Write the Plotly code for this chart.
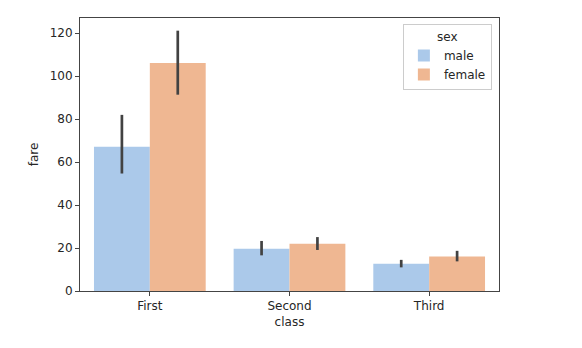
import plotly.graph_objects as go

classes = ["First", "Second", "Third"]
male_fare = [67.2, 19.7, 12.7]
female_fare = [106.1, 22.0, 16.1]
male_ci_low = [54.7, 16.6, 11.0]
male_ci_high = [82.0, 23.3, 14.5]
female_ci_low = [91.4, 19.1, 13.8]
female_ci_high = [121.2, 25.1, 18.7]

male_color = "#abc9ea"
female_color = "#efb792"
err_color = "#424242"
font_family = "DejaVu Sans"

def err(vals, lo, hi):
    plus = [h - v for v, h in zip(vals, hi)]
    minus = [v - l for v, l in zip(vals, lo)]
    return dict(type="data", symmetric=False, array=plus, arrayminus=minus,
                color=err_color, thickness=2.7, width=0)

fig = go.Figure()
fig.add_trace(go.Bar(x=classes, y=male_fare, name="male", marker_color=male_color,
                     marker_line_width=0, error_y=err(male_fare, male_ci_low, male_ci_high)))
fig.add_trace(go.Bar(x=classes, y=female_fare, name="female", marker_color=female_color,
                     marker_line_width=0, error_y=err(female_fare, female_ci_low, female_ci_high)))

fig.update_layout(
    width=582, height=348,
    margin=dict(l=80, r=83, t=18, b=57),
    barmode="group", bargap=0.2, bargroupgap=0,
    plot_bgcolor="white", paper_bgcolor="white",
    font=dict(family=font_family, size=12, color="#262626"),
    xaxis=dict(title=dict(text="class", standoff=5, font=dict(size=12)),
               range=[-0.5, 2.5], showline=True, linecolor="#444", linewidth=1, mirror=True,
               ticks="outside", ticklen=4, tickcolor="#444", showgrid=False),
    yaxis=dict(title=dict(text="fare", standoff=8, font=dict(size=12)),
               range=[0, 127.1], tickvals=[0, 20, 40, 60, 80, 100, 120],
               showline=True, linecolor="#444", linewidth=1, mirror=True,
               ticks="outside", ticklen=4, tickcolor="#444", showgrid=False, zeroline=False),
    legend=dict(title=dict(text="sex", side="top center", font=dict(size=12)),
                x=0.983, xanchor="right", y=0.977, yanchor="top",
                bordercolor="#cccccc", borderwidth=1, bgcolor="white",
                font=dict(size=12), itemwidth=30, tracegroupgap=0),
    showlegend=True,
)

fig.write_html("out.html")
